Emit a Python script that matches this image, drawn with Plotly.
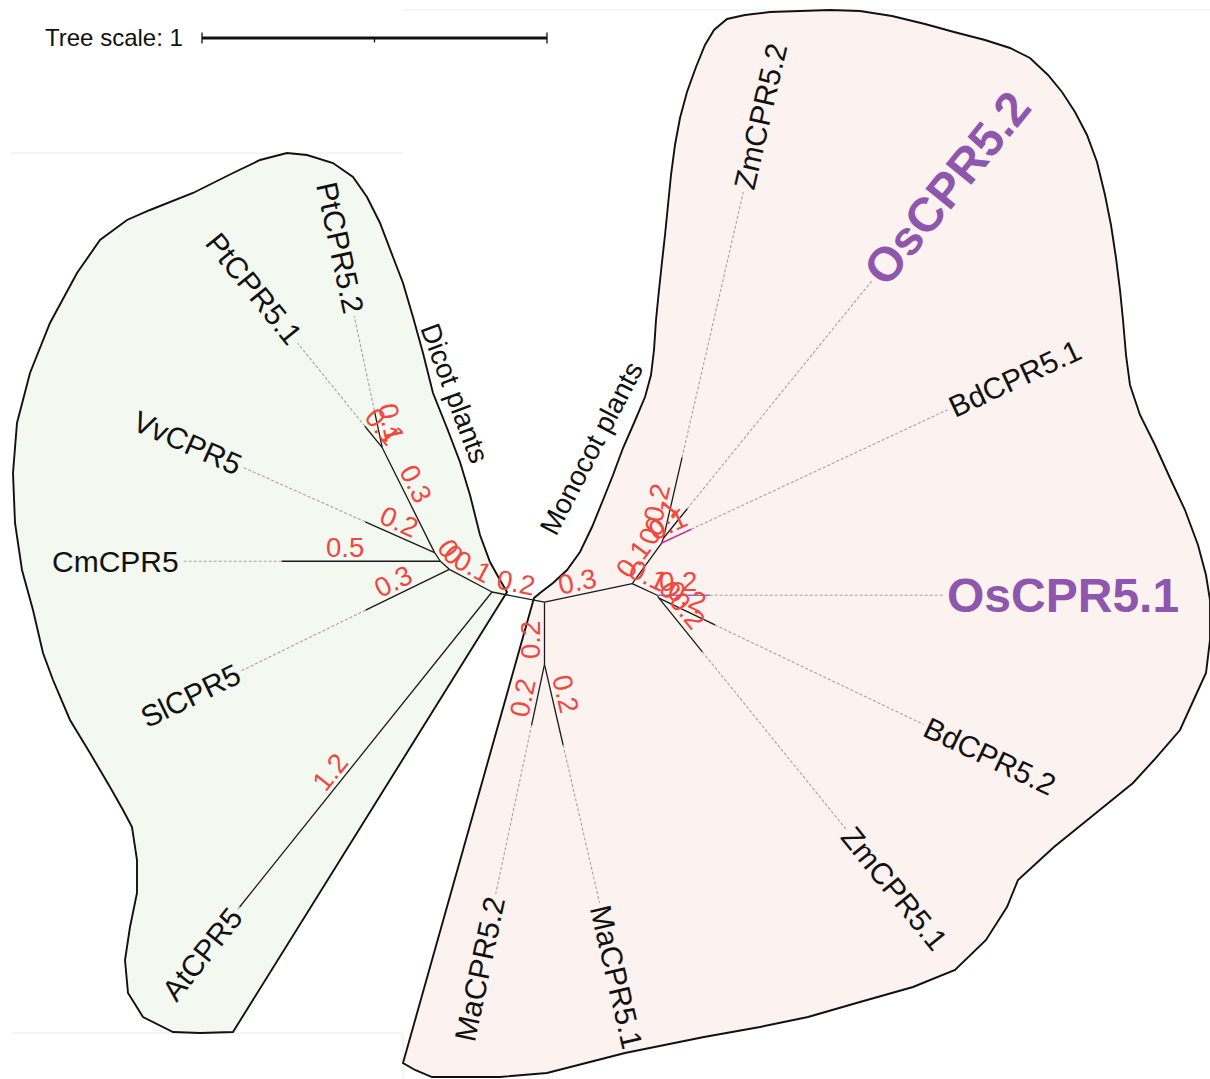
import math
import plotly.graph_objects as go

FIG_W, FIG_H = 1210, 1079
PX_PER_UNIT = 345.0            # pixels per unit of branch length
ORIGIN_PX = (492.0, 592.0)     # pixel position of the node joining At to the rest

# ---------------- tree: topology, branch lengths, branch directions ----------------
node_names = ["A", "C", "CmCPR5", "B", "VvCPR5", "Pt", "PtCPR5.2", "PtCPR5.1", "SlCPR5", "AtCPR5",
              "M", "Ma", "MaCPR5.2", "MaCPR5.1", "N", "P1", "BdCPR5.1", "P2", "ZmCPR5.2", "OsCPR5.2",
              "R", "OsCPR5.1", "R2", "BdCPR5.2", "ZmCPR5.1"]
parent_names = ["D", "A", "C", "C", "B", "B", "Pt", "Pt", "A", "D",
                "D", "M", "Ma", "Ma", "M", "N", "P1", "P1", "P2", "P2",
                "N", "R", "R", "R2", "R2"]
branch_lengths = [0.14, 0.035, 0.46, 0.03, 0.22, 0.34, 0.11, 0.08, 0.27, 1.17,
                  0.155, 0.18, 0.18, 0.24, 0.26, 0.145, 0.095, 0.015, 0.24, 0.11,
                  0.08, 0.152, 0.01, 0.18, 0.20]
branch_angles = [152, 138, 180, 124, 156, 116.5, 102, 129, 206, 231.3,
                 -11, -90, -102, -77, 12, 54, 25, 70, 77, 51,
                 -25, 0, -60, -25.5, -51]

# leaves and the length of the dotted guide from branch tip to label
leaf_names = ["PtCPR5.2", "PtCPR5.1", "VvCPR5", "CmCPR5", "SlCPR5", "AtCPR5", "MaCPR5.2",
              "MaCPR5.1", "ZmCPR5.1", "BdCPR5.2", "OsCPR5.1", "BdCPR5.1", "OsCPR5.2", "ZmCPR5.2"]
leaf_extensions = [0.28, 0.31, 0.39, 0.29, 0.40, 0.01, 0.50,
                   0.47, 0.66, 0.67, 0.68, 0.82, 0.85, 0.79]
highlight_leaves = ["OsCPR5.1", "OsCPR5.2"]

scale_bar_length = 1
scale_bar_label = "Tree scale: 1"
clade_labels = ["Dicot plants", "Monocot plants"]

# ---------------- styles ----------------
FONT = "Liberation Sans, Arial, sans-serif"
BRANCH_COLOR = "#1a1a1a"
GUIDE_COLOR = "#a3a3a3"
LENGTH_LABEL_COLOR = "#f0483e"
HIGHLIGHT_COLOR = "#8e56ad"
COLORED_BRANCHES = {"BdCPR5.1": "#c2379f", "OsCPR5.1": "#9b63cf"}
LEAF_FONT_SIZE = 30
HIGHLIGHT_FONT_SIZE = 48
LENGTH_FONT_SIZE = 27.5

# Arial / Liberation Sans advance widths (per 1000 em)
REG_W = {"A": 667, "B": 667, "C": 722, "P": 667, "R": 722, "O": 778, "S": 667, "V": 667,
         "Z": 611, "M": 833, "a": 556, "d": 556, "l": 222, "m": 833, "s": 500, "t": 278,
         "v": 500, ".": 278, " ": 278}
BOLD_W = {"O": 778, "s": 556, "C": 722, "P": 667, "R": 722, ".": 278}


def text_width(s, size, bold=False):
    table = BOLD_W if bold else REG_W
    total = 0
    for ch in s:
        total += 556 if ch.isdigit() else table.get(ch, 556)
    return total / 1000.0 * size


def read_angle(a):
    """Direction in which a label along angle a is read (kept left-to-right)."""
    a = (a + 180.0) % 360.0 - 180.0
    if -90.0 < a <= 90.0:
        return a
    return a + 180.0 if a <= -90.0 else a - 180.0


def fmt_len(v):
    s = f"{v:.1f}"
    return "0" if s == "0.0" else s


def px_to_paper(px, py):
    return px / FIG_W, 1.0 - py / FIG_H


def px_to_data(px, py):
    return (px - ORIGIN_PX[0]) / PX_PER_UNIT, (ORIGIN_PX[1] - py) / PX_PER_UNIT


# ---------------- node coordinates from lengths and directions ----------------
pos = {"D": (0.0, 0.0)}
for name, par, ln, ang in zip(node_names, parent_names, branch_lengths, branch_angles):
    x0, y0 = pos[par]
    r = math.radians(ang)
    pos[name] = (x0 + ln * math.cos(r), y0 + ln * math.sin(r))

fig = go.Figure()


def add_segments(segs, color, width, dash="solid"):
    xs, ys = [], []
    for (x0, y0), (x1, y1) in segs:
        xs += [x0, x1, None]
        ys += [y0, y1, None]
    fig.add_trace(go.Scatter(x=xs, y=ys, mode="lines", hoverinfo="skip",
                             line=dict(color=color, width=width, dash=dash)))


# dotted guides from branch tips to labels
guides = []
guide_ends = {}
for leaf, ext in zip(leaf_names, leaf_extensions):
    ang = branch_angles[node_names.index(leaf)]
    r = math.radians(ang)
    x0, y0 = pos[leaf]
    end = (x0 + ext * math.cos(r), y0 + ext * math.sin(r))
    guide_ends[leaf] = end
    guides.append(((x0, y0), end))
add_segments(guides, GUIDE_COLOR, 1.1, "3px,2px")

# branches
plain = []
for name, par in zip(node_names, parent_names):
    if name in COLORED_BRANCHES:
        continue
    plain.append((pos[par], pos[name]))
add_segments(plain, BRANCH_COLOR, 1.3)
for name, col in COLORED_BRANCHES.items():
    add_segments([(pos[parent_names[node_names.index(name)]], pos[name])], col, 1.6)

annotations = []

# branch length labels: set slightly before the branch middle (in reading order), above it
for name, par, ln, ang in zip(node_names, parent_names, branch_lengths, branch_angles):
    (x0, y0), (x1, y1) = pos[par], pos[name]
    ra = read_angle(ang)
    rr = math.radians(ra)
    d = (math.cos(rr), math.sin(rr))
    up = (-math.sin(rr), math.cos(rr))
    back, lift = 0.1 * ln, 14.0 / PX_PER_UNIT
    cx = (x0 + x1) / 2 - back * d[0] + lift * up[0]
    cy = (y0 + y1) / 2 - back * d[1] + lift * up[1]
    annotations.append(dict(x=cx, y=cy, xref="x", yref="y", text=fmt_len(ln), showarrow=False,
                            textangle=-ra, xanchor="center", yanchor="middle",
                            font=dict(family=FONT, size=LENGTH_FONT_SIZE, color=LENGTH_LABEL_COLOR)))

# leaf labels
for leaf in leaf_names:
    ang = branch_angles[node_names.index(leaf)]
    r = math.radians(ang)
    u = (math.cos(r), math.sin(r))
    bold = leaf in highlight_leaves
    size = HIGHLIGHT_FONT_SIZE if bold else LEAF_FONT_SIZE
    w = text_width(leaf, size, bold)
    off = (3.0 + w / 2.0) / PX_PER_UNIT
    ex, ey = guide_ends[leaf]
    annotations.append(dict(x=ex + off * u[0], y=ey + off * u[1], xref="x", yref="y",
                            text=leaf, showarrow=False, textangle=-read_angle(ang),
                            xanchor="center", yanchor="middle",
                            font=dict(family=FONT, size=size,
                                      color=HIGHLIGHT_COLOR if bold else "#111111",
                                      weight="bold" if bold else "normal")))

# scale bar
sx, sy = px_to_data(202, 38)
tick = 5.5 / PX_PER_UNIT
add_segments([((sx, sy), (sx + scale_bar_length, sy))], "#111111", 3)
add_segments([((sx, sy - tick), (sx, sy + tick)),
              ((sx + scale_bar_length, sy - tick), (sx + scale_bar_length, sy + tick)),
              ((sx + scale_bar_length / 2, sy), (sx + scale_bar_length / 2, sy - tick * 0.8))],
             "#111111", 1.3)
tx, ty = px_to_paper(185, 38)
annotations.append(dict(x=tx, y=ty, xref="paper", yref="paper", text=scale_bar_label,
                        showarrow=False, xanchor="right", yanchor="middle",
                        font=dict(family=FONT, size=24, color="#111111")))

# clade captions
for text, (px, py), angle in zip(clade_labels, [(455, 393), (591, 448)], [69.5, -62.5]):
    ax, ay = px_to_paper(px, py)
    annotations.append(dict(x=ax, y=ay, xref="paper", yref="paper", text=text, showarrow=False,
                            textangle=angle, xanchor="center", yanchor="middle",
                            font=dict(family=FONT, size=28, color="#111111")))

# ---------------- clade outlines ----------------
dicot_outline_px = [
    (233, 1032), (507, 592), (500, 580), (490, 562), (480, 535), (470, 495), (460, 462),
    (447, 428), (433, 393), (423, 353), (413, 317), (403, 283), (393, 257), (380, 223),
    (367, 197), (353, 177), (333, 163), (307, 155), (287, 153), (260, 160), (233, 173),
    (193, 193), (150, 210), (127, 220), (100, 240), (77, 273), (50, 323), (30, 373),
    (17, 423), (13, 473), (15, 523), (22, 570), (33, 610), (43, 653), (53, 680), (70, 720),
    (90, 753), (110, 787), (123, 810), (132, 827), (137, 860), (137, 893), (130, 927),
    (125, 960), (128, 993), (143, 1017), (173, 1032), (200, 1033),
]
monocot_outline_px = [
    (534, 598), (540, 593), (553, 583), (567, 570), (580, 552), (592, 527), (603, 500),
    (613, 475), (623, 448), (634, 423), (645, 397), (651, 375), (654, 350), (656, 320),
    (659, 290), (662, 262), (665, 235), (668, 205), (671, 175), (675, 145), (680, 118),
    (687, 92), (696, 67), (705, 45), (714, 30), (727, 19), (745, 15), (770, 12), (800, 11),
    (830, 10), (860, 11), (892, 16), (925, 24), (954, 32), (985, 40), (1010, 48), (1030, 58),
    (1048, 75), (1062, 92), (1075, 112), (1087, 135), (1097, 162), (1105, 195), (1111, 225),
    (1116, 258), (1120, 290), (1123, 320), (1126, 355), (1130, 385), (1140, 415), (1155, 445),
    (1170, 478), (1185, 510), (1198, 545), (1206, 575), (1210, 600), (1210, 640), (1206, 673),
    (1195, 697), (1180, 730), (1154, 760), (1133, 783), (1096, 813), (1054, 847), (1018, 880),
    (1007, 907), (986, 940), (955, 970), (913, 987), (860, 1002), (808, 1017), (760, 1027),
    (704, 1037), (625, 1053), (547, 1073), (500, 1077), (432, 1077), (415, 1070), (403, 1063),
]


def outline_path(points):
    parts = []
    for i, (px, py) in enumerate(points):
        xp, yp = px_to_paper(px, py)
        parts.append(("M" if i == 0 else "L") + f"{xp:.5f},{yp:.5f}")
    return " ".join(parts) + " Z"


shapes = []
# faint panel seams
for (x0, y0), (x1, y1) in [((403, 10), (1210, 10)), ((10, 153), (403, 153)),
                           ((12, 1033), (403, 1033)), ((403, 1033), (403, 1079))]:
    a0, b0 = px_to_paper(x0, y0)
    a1, b1 = px_to_paper(x1, y1)
    shapes.append(dict(type="line", xref="paper", yref="paper", x0=a0, y0=b0, x1=a1, y1=b1,
                       line=dict(color="#ececec", width=1), layer="below"))
shapes.append(dict(type="path", xref="paper", yref="paper", path=outline_path(dicot_outline_px),
                   fillcolor="#f3f8f1", line=dict(color="#111111", width=1.9), layer="below"))
shapes.append(dict(type="path", xref="paper", yref="paper", path=outline_path(monocot_outline_px),
                   fillcolor="#fcf2f0", line=dict(color="#111111", width=1.9), layer="below"))

x_lo, y_hi = px_to_data(0, 0)
x_hi, y_lo = px_to_data(FIG_W, FIG_H)
fig.update_layout(
    width=FIG_W, height=FIG_H, margin=dict(l=0, r=0, t=0, b=0),
    paper_bgcolor="white", plot_bgcolor="white", showlegend=False,
    xaxis=dict(range=[x_lo, x_hi], visible=False, fixedrange=True),
    yaxis=dict(range=[y_lo, y_hi], visible=False, fixedrange=True),
    annotations=annotations, shapes=shapes,
)
fig.write_html("out.html")
